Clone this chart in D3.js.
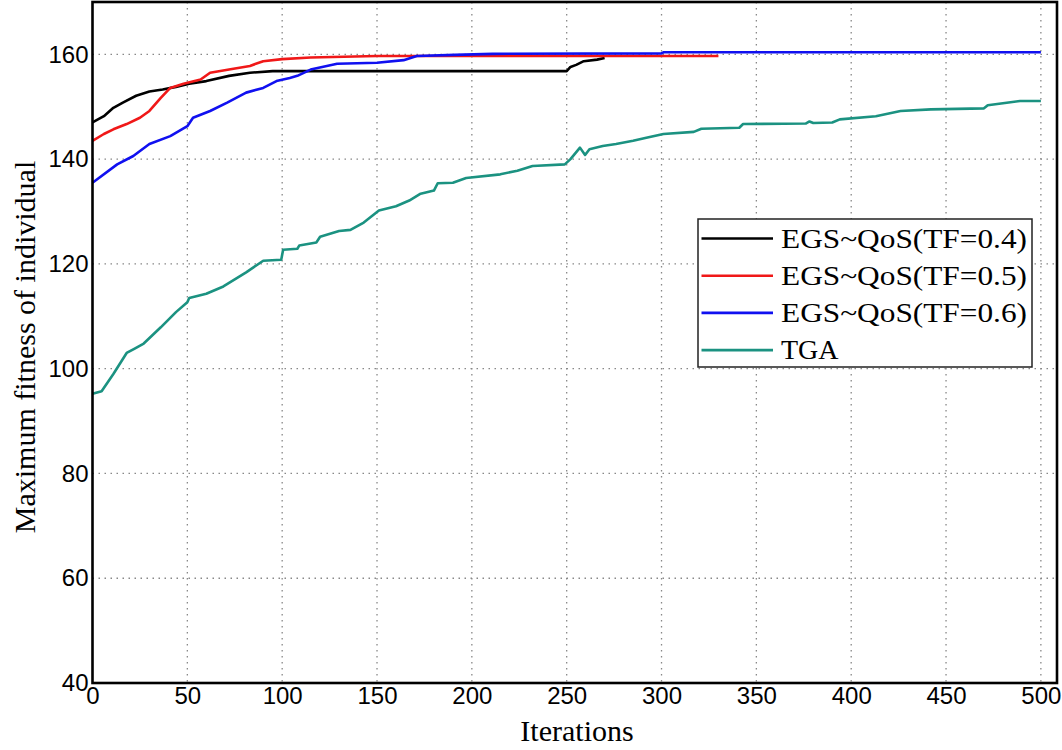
<!DOCTYPE html>
<html>
<head>
<meta charset="utf-8">
<script src="https://cdn.jsdelivr.net/npm/d3@7"></script>
<style>
  html, body { margin: 0; padding: 0; background: #fff; }
  svg { display: block; }
  .tick-label { font-family: "Liberation Sans", Arial, sans-serif; font-size: 24px; fill: #000; }
  .title { font-family: "Liberation Serif", "Times New Roman", serif; fill: #000; }
  .grid line { stroke: #888; stroke-width: 1.3; stroke-dasharray: 1.5 4.5; }
</style>
</head>
<body>
<svg id="chart" width="1062" height="750"></svg>
<script>
/* ── DATA ───────────────────────────────────────────────────────────────────── */
const SERIES_NAMES = ['EGS~QoS(TF=0.4)', 'EGS~QoS(TF=0.5)', 'EGS~QoS(TF=0.6)', 'TGA'];
const SERIES_COLORS = ['#000000', '#f01818', '#1010f0', '#1b9281'];

const X_TICKS = [0, 50, 100, 150, 200, 250, 300, 350, 400, 450, 500];
const Y_TICKS = [40, 60, 80, 100, 120, 140, 160];

// [iteration, max fitness]
const tf04 = [
  [0, 147], [6, 148.2], [11, 149.8], [16, 150.8], [23, 152.1], [30, 152.9],
  [37, 153.3], [44, 153.8], [51, 154.4], [60, 154.9], [72, 155.9], [83, 156.5],
  [95, 156.8], [250, 156.8], [252, 157.6], [255, 158], [259, 158.7], [266, 159],
  [270, 159.3]
];
const tf05 = [
  [0, 143.5], [6, 144.8], [11, 145.7], [18, 146.7], [25, 147.9], [30, 149.2],
  [36, 151.7], [41, 153.6], [48, 154.4], [57, 155.2], [62, 156.5], [72, 157.1],
  [83, 157.8], [90, 158.7], [100, 159.1], [115, 159.4], [150, 159.7], [330, 159.7]
];
const tf06 = [
  [0, 135.5], [13, 139], [21.5, 140.6], [30, 142.9], [41, 144.4], [50, 146.3],
  [53, 147.9], [62, 149.2], [71, 150.8], [81, 152.7], [90, 153.6], [97, 154.9],
  [104, 155.5], [108, 155.9], [115, 157.1], [129, 158.2], [150, 158.4], [164, 158.9],
  [171, 159.7], [191, 159.9], [211, 160.1], [300, 160.2], [301, 160.4], [500, 160.4]
];
const tga = [
  [0, 95.2], [4.8, 95.7], [11, 99], [18, 103], [22, 103.8], [27, 104.8], [36, 107.9],
  [44, 110.8], [50, 112.7], [51, 113.5], [60, 114.3], [69, 115.7], [81, 118.4],
  [90, 120.6], [99.5, 120.8], [100.5, 122.7], [108, 122.9], [109, 123.5], [118, 124.1],
  [120, 125.2], [130, 126.3], [136, 126.5], [143, 127.9], [151, 130.2], [160, 131],
  [167, 132.1], [173, 133.4], [180, 134], [182, 135.4], [190, 135.5], [197, 136.4],
  [215, 137.1], [224, 137.8], [232, 138.7], [249, 139], [252, 140], [257, 142.2],
  [259.7, 140.8], [262, 141.9], [269, 142.5], [276, 142.9], [285, 143.5], [292, 144.1],
  [301, 144.8], [317, 145.2], [321, 145.8], [341, 146], [343, 146.7], [376, 146.8],
  [378, 147.2], [380, 146.9], [390, 147], [394, 147.6], [413, 148.2], [426, 149.2],
  [442, 149.5], [470, 149.7], [472, 150.3], [483, 150.8], [489, 151.1], [500, 151.1]
];
const SERIES = [tf04, tf05, tf06, tga];

/* ── LAYOUT ─────────────────────────────────────────────────────────────────── */
const margin = { top: 2, right: 5, bottom: 67, left: 92.5 };
const W = 1062, H = 750;
const iw = W - margin.left - margin.right;
const ih = H - margin.top - margin.bottom;

const svg = d3.select('#chart');
const g = svg.append('g').attr('transform', `translate(${margin.left},${margin.top})`);

const x = d3.scaleLinear().domain([0, 508.5]).range([0, iw]);
const y = d3.scaleLinear().domain([40, 170]).range([ih, 0]);

/* ── GRID ───────────────────────────────────────────────────────────────────── */
const grid = g.append('g').attr('class', 'grid');
grid.selectAll('.gx').data(X_TICKS.slice(1)).join('line')
  .attr('x1', d => x(d)).attr('x2', d => x(d))
  .attr('y1', 0).attr('y2', ih);
grid.selectAll('.gy').data(Y_TICKS.slice(1)).join('line')
  .attr('class', 'gy')
  .attr('x1', 0).attr('x2', iw)
  .attr('y1', d => y(d)).attr('y2', d => y(d));

/* ── AXES ───────────────────────────────────────────────────────────────────── */
const xAxis = g.append('g').attr('transform', `translate(0,${ih})`)
  .call(d3.axisBottom(x).tickValues(X_TICKS).tickSize(0).tickPadding(4));
const yAxis = g.append('g')
  .call(d3.axisLeft(y).tickValues(Y_TICKS).tickSize(0).tickPadding(4));
[xAxis, yAxis].forEach(a => {
  a.select('.domain').remove();
  a.selectAll('text').attr('class', 'tick-label');
});
xAxis.selectAll('text').attr('dy', '0.72em').attr('y', 4);
yAxis.selectAll('text').attr('dy', '0.32em');

/* ── LINES ──────────────────────────────────────────────────────────────────── */
const line = d3.line().x(d => x(d[0])).y(d => y(d[1]));
g.selectAll('.series').data(SERIES).join('path')
  .attr('class', 'series')
  .attr('d', line)
  .attr('fill', 'none')
  .attr('stroke', (d, i) => SERIES_COLORS[i])
  .attr('stroke-width', 2.6)
  .attr('stroke-linejoin', 'round');

/* ── FRAME ──────────────────────────────────────────────────────────────────── */
g.append('rect')
  .attr('x', 0).attr('y', 0).attr('width', iw).attr('height', ih)
  .attr('fill', 'none').attr('stroke', '#000').attr('stroke-width', 2.6);

/* ── LEGEND ─────────────────────────────────────────────────────────────────── */
const legend = svg.append('g').attr('transform', 'translate(698,219)');
legend.append('rect')
  .attr('width', 334).attr('height', 148)
  .attr('fill', '#fff').attr('stroke', '#222').attr('stroke-width', 1.5);
const rows = legend.selectAll('.row').data(SERIES_NAMES).join('g')
  .attr('transform', (d, i) => `translate(0,${19.5 + i * 37.2})`);
rows.append('line')
  .attr('x1', 3.5).attr('x2', 75)
  .attr('stroke', (d, i) => SERIES_COLORS[i]).attr('stroke-width', 2.6);
rows.append('text')
  .attr('class', 'title')
  .attr('x', 83).attr('y', 9)
  .style('font-size', '28px')
  .attr('textLength', d => d === 'TGA' ? null : 246)
  .attr('lengthAdjust', 'spacingAndGlyphs')
  .text(d => d);

/* ── TITLES ─────────────────────────────────────────────────────────────────── */
svg.append('text')
  .attr('class', 'title')
  .attr('x', 577).attr('y', 741)
  .attr('text-anchor', 'middle')
  .style('font-size', '30px')
  .text('Iterations');

svg.append('text')
  .attr('class', 'title')
  .attr('transform', 'translate(35,347) rotate(-90)')
  .attr('text-anchor', 'middle')
  .style('font-size', '30px')
  .text('Maximum fitness of individual');
</script>
</body>
</html>
